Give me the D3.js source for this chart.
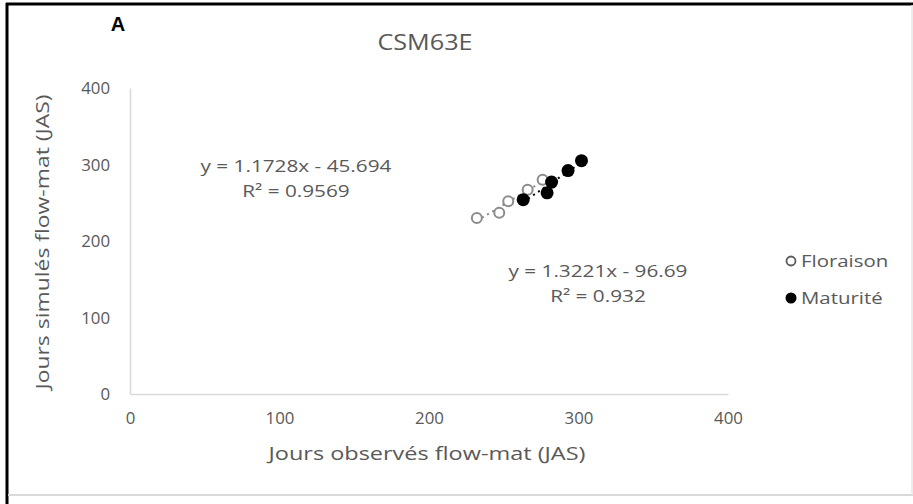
<!DOCTYPE html>
<html><head><meta charset="utf-8">
<script src="https://cdn.jsdelivr.net/npm/d3@7"></script>
<style>body{margin:0;background:#fff;} svg{display:block;}</style>
</head><body>
<script>
const xTicks = [0, 100, 200, 300, 400];
const yTicks = [0, 100, 200, 300, 400];
const floraisonObs = [232, 247, 253, 266, 276];
const floraisonSim = [230, 237, 252, 267, 280];
const maturiteObs = [263, 279, 282, 293, 302];
const maturiteSim = [254, 263, 277, 292, 305];
const seriesNames = ["Floraison", "Maturité"];
const eqFlo = ["y = 1.1728x - 45.694", "R² = 0.9569"];
const eqMat = ["y = 1.3221x - 96.69", "R² = 0.932"];
const fitFlo = [1.1728, -45.694];
const fitMat = [1.3221, -96.69];

const W = 913, H = 504;
const svg = d3.select("body").append("svg").attr("width", W).attr("height", H);
const font = "'Open Sans', sans-serif";
const grey = "#595959";
const STRETCH = 1.22;

function stretch(sel, k) {
  sel.each(function () {
    const L = this.getComputedTextLength();
    d3.select(this).attr("textLength", L * k).attr("lengthAdjust", "spacingAndGlyphs");
  });
}

// frame
svg.append("line").attr("x1", 6).attr("x2", 913).attr("y1", 4).attr("y2", 4).attr("stroke", "#000").attr("stroke-width", 3);
svg.append("line").attr("x1", 7).attr("x2", 7).attr("y1", 3).attr("y2", 504).attr("stroke", "#000").attr("stroke-width", 3);
svg.append("line").attr("x1", 8).attr("x2", 913).attr("y1", 495).attr("y2", 495).attr("stroke", "#d9d9d9").attr("stroke-width", 2);
svg.append("line").attr("x1", 912).attr("x2", 912).attr("y1", 5).attr("y2", 495).attr("stroke", "#e6e6e6").attr("stroke-width", 1.5);

const x = d3.scaleLinear().domain([0, 400]).range([130, 728]);
const y = d3.scaleLinear().domain([0, 400]).range([394, 88]);

const xAxis = svg.append("g").attr("transform", "translate(0,394)")
  .call(d3.axisBottom(x).tickValues(xTicks).tickSize(0).tickPadding(19));
const yAxis = svg.append("g").attr("transform", "translate(130,0)")
  .call(d3.axisLeft(y).tickValues(yTicks).tickSize(0).tickPadding(20));
[xAxis, yAxis].forEach(g => {
  g.select(".domain").attr("stroke", "#d9d9d9").attr("stroke-width", 1.5);
  g.selectAll("text").attr("fill", grey).style("font-family", font).style("font-size", "16px");
  stretch(g.selectAll("text"), 1.05);
});
yAxis.selectAll("text").attr("dy", "0.35em");

// titles
svg.append("text").attr("x", 118).attr("y", 31).attr("text-anchor", "middle")
  .style("font-family", "'Liberation Sans', Arial, sans-serif").style("font-weight", "bold").style("font-size", "20px").attr("fill", "#000").text("A");
stretch(svg.append("text").attr("x", 425).attr("y", 50).attr("text-anchor", "middle")
  .style("font-family", font).style("font-size", "21px").attr("fill", grey).text("CSM63E"), 1.2);
svg.append("text").attr("x", 427).attr("y", 460).attr("text-anchor", "middle")
  .style("font-family", font).style("font-size", "19px").attr("fill", grey)
  .attr("textLength", 317).attr("lengthAdjust", "spacingAndGlyphs").text("Jours observés flow-mat (JAS)");
svg.append("text").attr("transform", "translate(49,242) rotate(-90)").attr("text-anchor", "middle")
  .style("font-family", font).style("font-size", "19px").attr("fill", grey)
  .attr("textLength", 295).attr("lengthAdjust", "spacingAndGlyphs").text("Jours simulés flow-mat (JAS)");

// trendlines
function trend(obs, fit, color) {
  const x0 = d3.min(obs), x1 = d3.max(obs);
  svg.append("line").attr("x1", x(x0)).attr("x2", x(x1))
    .attr("y1", y(fit[0] * x0 + fit[1])).attr("y2", y(fit[0] * x1 + fit[1]))
    .attr("stroke", color).attr("stroke-width", 2).attr("stroke-dasharray", "2,4");
}
trend(floraisonObs, fitFlo, "#888");
trend(maturiteObs, fitMat, "#000");

// points
const flo = floraisonObs.map((v, i) => [v, floraisonSim[i]]);
const mat = maturiteObs.map((v, i) => [v, maturiteSim[i]]);
svg.append("g").selectAll("circle").data(flo).join("circle")
  .attr("cx", d => x(d[0])).attr("cy", d => y(d[1])).attr("r", 5)
  .attr("fill", "#fff").attr("stroke", "#8c8c8c").attr("stroke-width", 2);
svg.append("g").selectAll("circle").data(mat).join("circle")
  .attr("cx", d => x(d[0])).attr("cy", d => y(d[1])).attr("r", 6.5)
  .attr("fill", "#000");

// equations
function eq(lines, cx, cy) {
  lines.forEach((t, i) => {
    const el = svg.append("text").attr("x", cx).attr("y", cy + i * 25).attr("text-anchor", "middle")
      .style("font-family", font).style("font-size", "17px").attr("fill", grey).text(t);
    stretch(el, STRETCH);
  });
}
eq(eqFlo, 296, 172);
eq(eqMat, 598, 277);

// legend
const leg = svg.append("g");
seriesNames.forEach((n, i) => {
  const ly = 261 + i * 37;
  if (i === 0) leg.append("circle").attr("cx", 791).attr("cy", ly).attr("r", 4.5).attr("fill", "#fff").attr("stroke", "#595959").attr("stroke-width", 1.8);
  else leg.append("circle").attr("cx", 791).attr("cy", ly).attr("r", 5.5).attr("fill", "#000");
  stretch(leg.append("text").attr("x", 801).attr("y", ly + 6).style("font-family", font).style("font-size", "17px").attr("fill", grey).text(n), 1.2);
});
</script>
</body></html>
